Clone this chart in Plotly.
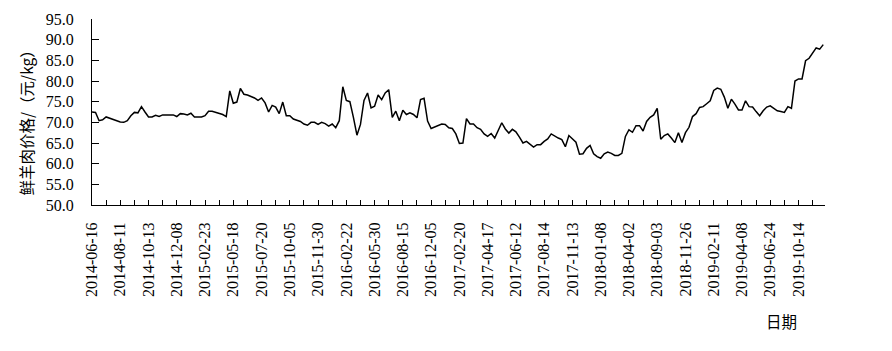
import plotly.graph_objects as go

tick_labels = [
    "2014-06-16", "2014-08-11", "2014-10-13", "2014-12-08", "2015-02-23", "2015-05-18",
    "2015-07-20", "2015-10-05", "2015-11-30", "2016-02-22", "2016-05-30", "2016-08-15",
    "2016-12-05", "2017-02-20", "2017-04-17", "2017-06-12", "2017-08-14", "2017-11-13",
    "2018-01-08", "2018-04-02", "2018-09-03", "2018-11-26", "2019-02-11", "2019-04-08",
    "2019-06-24", "2019-10-14",
]

prices = [
    72.5, 72.4, 70.4, 70.6, 71.3, 71.0, 70.7, 70.4, 70.1, 70.0,
    70.4, 71.6, 72.4, 72.3, 73.8, 72.5, 71.3, 71.3, 71.7, 71.4,
    71.8, 71.8, 71.8, 71.8, 71.4, 72.1, 72.0, 71.8, 72.2, 71.3,
    71.3, 71.3, 71.6, 72.7, 72.7, 72.4, 72.1, 71.9, 71.4, 77.6,
    74.6, 74.9, 78.2, 76.8, 76.6, 76.3, 75.9, 75.3, 75.9, 74.7,
    72.5, 74.1, 73.7, 72.1, 74.9, 71.6, 71.6, 70.8, 70.5, 70.2,
    69.6, 69.3, 70.0, 70.0, 69.5, 70.0, 69.7, 69.1, 69.6, 68.7,
    70.4, 78.6, 75.3, 75.0, 71.2, 66.9, 69.5, 75.3, 77.1, 73.5,
    73.9, 76.6, 75.5, 77.1, 77.9, 71.2, 72.7, 70.4, 72.9, 71.9,
    72.3, 71.9, 71.1, 75.5, 75.8, 70.3, 68.5, 68.9, 69.2, 69.6,
    69.5, 68.7, 68.5, 67.2, 64.9, 65.0, 70.9, 69.6, 69.6, 68.7,
    68.3, 67.2, 66.6, 67.3, 66.2, 68.0, 69.9, 68.4, 67.4, 68.3,
    67.7, 66.4, 65.0, 65.4, 64.6, 64.0, 64.6, 64.6, 65.4, 66.0,
    67.2, 66.6, 66.2, 65.8, 64.1, 66.8, 66.0, 65.2, 62.3, 62.4,
    63.7, 64.4, 62.4, 61.7, 61.3, 62.4, 62.8, 62.5, 62.0, 62.0,
    62.5, 66.6, 68.2, 67.6, 69.2, 69.2, 67.9, 70.2, 71.2, 71.8,
    73.4, 65.9, 66.8, 67.2, 66.2, 65.1, 67.5, 65.1, 67.5, 68.8,
    71.4, 72.1, 73.6, 73.8, 74.5, 75.2, 77.7, 78.3, 78.0, 76.1,
    73.4, 75.6, 74.4, 73.0, 73.0, 75.2, 73.8, 73.7, 72.6, 71.6,
    72.8, 73.7, 74.0, 73.4, 72.8, 72.6, 72.4, 73.8, 73.4, 80.0,
    80.5, 80.5, 84.9, 85.5, 86.9, 88.0, 87.7, 88.8,
]

y_title = "鲜羊肉价格/（元/kg）"
x_title = "日期"

LABEL_STEP = 8
TICK_STEP = 4

x_idx = list(range(len(prices)))
tickvals = list(range(0, len(prices), TICK_STEP))
ticktext = [tick_labels[v // LABEL_STEP] if v % LABEL_STEP == 0 and v // LABEL_STEP < len(tick_labels) else ""
            for v in tickvals]

serif = "Liberation Serif, Times New Roman, serif"
cjk = "Noto Sans CJK SC, sans-serif"

fig = go.Figure()
fig.add_trace(go.Scatter(
    x=x_idx, y=prices, mode="lines",
    line=dict(color="#000000", width=1.5),
    hoverinfo="skip", showlegend=False,
))

fig.update_layout(
    width=892, height=351,
    margin=dict(l=92, r=67, t=19, b=146),
    paper_bgcolor="white", plot_bgcolor="white",
    font=dict(family=serif, size=16, color="#000000"),
    xaxis=dict(
        range=[0, len(prices) - 0.5],
        tickmode="array", tickvals=tickvals, ticktext=ticktext,
        tickangle=-90, ticks="inside", ticklen=5, tickcolor="#000000", tickwidth=1,
        showline=True, linecolor="#000000", linewidth=1,
        showgrid=False, zeroline=False,
        tickfont=dict(family=serif, size=16, color="#000000"),
        ticklabelstandoff=10,
    ),
    yaxis=dict(
        range=[50, 95], tickmode="array",
        tickvals=[50, 55, 60, 65, 70, 75, 80, 85, 90, 95],
        tickformat=".1f",
        ticks="inside", ticklen=7, tickcolor="#000000", tickwidth=1,
        showline=True, linecolor="#000000", linewidth=1,
        showgrid=False, zeroline=False,
        tickfont=dict(family=serif, size=16, color="#000000"),
        ticklabelstandoff=14,
    ),
    annotations=[
        dict(text=y_title, xref="paper", yref="paper", x=-0.09, y=0.46,
             xanchor="center", yanchor="middle", textangle=-90, showarrow=False,
             font=dict(family=cjk, size=15.5, color="#000000")),
        dict(text=x_title, xref="paper", yref="paper", x=0.94, y=-0.625,
             xanchor="center", yanchor="middle", showarrow=False,
             font=dict(family=cjk, size=15.5, color="#000000")),
    ],
)

fig.write_html("out.html")
